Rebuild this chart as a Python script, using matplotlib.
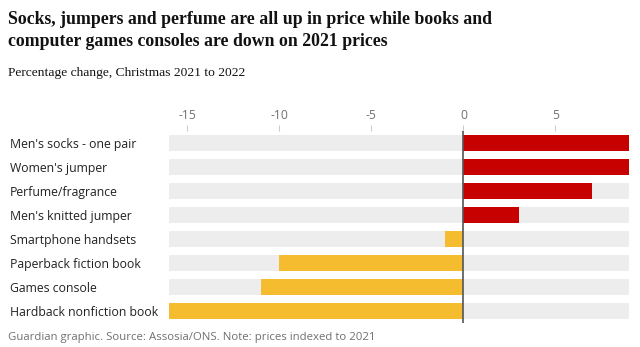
import matplotlib
matplotlib.use("Agg")
import matplotlib.pyplot as plt

# Percentage change in price, Christmas 2021 to 2022
items = ["Men's socks - one pair", "Women's jumper", "Perfume/fragrance",
         "Men's knitted jumper", "Smartphone handsets", "Paperback fiction book",
         "Games console", "Hardback nonfiction book"]
change = [9, 9, 7, 3, -1, -10, -11, -16]
xticks = [-15, -10, -5, 0, 5]
x_min, x_max = -16, 9

red = "#c70000"
yellow = "#f5bc2f"
track = "#ededed"

fig = plt.figure(figsize=(6.4, 3.47), dpi=100)
H = 347.0
ax = fig.add_axes([0.264, 0.069, 0.719, 0.553])

pos = list(range(len(items)))
ax.barh(pos, [x_max - x_min] * len(items), left=x_min, height=0.667, color=track, zorder=1)
colors = [red if v > 0 else yellow for v in change]
ax.barh(pos, change, height=0.667, color=colors, zorder=2)
ax.axvline(0, color="#555555", lw=1.2, zorder=3)

ax.set_xlim(x_min, x_max)
ax.set_ylim(len(items) - 0.5, -0.5)
ax.set_yticks(pos)
ax.set_yticklabels(items, fontsize=8.8, color="#222222", family="Open Sans")
ax.tick_params(axis="y", length=0, pad=0)
for lab in ax.get_yticklabels():
    lab.set_horizontalalignment("left")
    lab.set_x(-0.248 / 0.719)

ax.xaxis.tick_top()
ax.set_xticks(xticks)
ax.set_xticklabels([str(t) for t in xticks], fontsize=8.7, color="#707070", family="Open Sans")
ax.tick_params(axis="x", length=4, width=0.8, color="#cccccc", pad=2.5)
for s in ax.spines.values():
    s.set_visible(False)

title_kw = dict(fontsize=12.8, fontweight="bold", family="Liberation Serif",
                color="#121212", va="baseline")
fig.text(0.0125, 1 - 24 / H,
         "Socks, jumpers and perfume are all up in price while books and", **title_kw)
fig.text(0.0125, 1 - 46.5 / H,
         "computer games consoles are down on 2021 prices", **title_kw)
fig.text(0.0125, 1 - 76 / H, "Percentage change, Christmas 2021 to 2022",
         fontsize=9.7, family="Liberation Serif", color="#121212", va="baseline")
fig.text(0.0125, 0.028, "Guardian graphic. Source: Assosia/ONS. Note: prices indexed to 2021",
         fontsize=8.2, family="Open Sans", color="#707070", va="center")

fig.savefig("out.png", dpi=100)
